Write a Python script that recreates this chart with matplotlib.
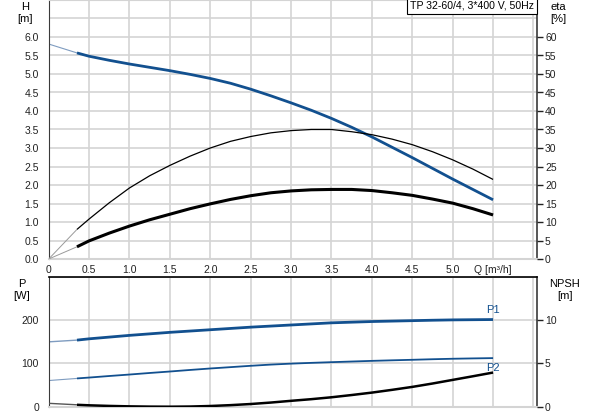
import numpy as np
import matplotlib
matplotlib.use('Agg')
import matplotlib.pyplot as plt

plt.rcParams['font.family'] = ['Liberation Sans', 'DejaVu Sans']
plt.rcParams['font.size'] = 7.5

# flow points [m3/h]
q = [0, 0.35, 0.5, 0.75, 1.0, 1.25, 1.5, 1.75, 2.0, 2.25, 2.5, 2.75,
     3.0, 3.25, 3.5, 3.75, 4.0, 4.25, 4.5, 4.75, 5.0, 5.25, 5.5]
# head [m]
head = [5.81, 5.57, 5.48, 5.37, 5.27, 5.18, 5.09, 4.99, 4.88, 4.75, 4.59, 4.41,
        4.22, 4.02, 3.80, 3.56, 3.30, 3.02, 2.74, 2.45, 2.16, 1.88, 1.60]
# efficiencies [%]
eta_pump = [0, 8.0, 10.8, 15.2, 19.2, 22.5, 25.3, 27.8, 30.0, 31.8, 33.1, 34.1,
            34.7, 35.0, 35.0, 34.4, 33.6, 32.4, 30.9, 29.0, 26.8, 24.3, 21.5]
eta_total = [0, 3.3, 4.9, 7.0, 8.9, 10.6, 12.1, 13.6, 14.9, 16.1, 17.1, 17.9,
             18.4, 18.7, 18.8, 18.8, 18.5, 17.9, 17.2, 16.2, 15.1, 13.6, 11.9]
# power [W]
p1 = [150, 154, 157, 161, 165, 168.5, 172, 175, 178, 181, 184, 186.5,
      189, 191.5, 194, 195.5, 197, 198, 199, 200, 200.8, 201.2, 201.6]
p2 = [60.5, 65.4, 67.4, 71, 74.4, 78, 81.4, 85, 88.4, 91.5, 94.6, 97.4,
      99.6, 101.4, 103, 104.5, 106, 107.3, 108.5, 109.8, 110.9, 111.7, 112.4]
# NPSH [m]
npsh = [0.39, 0.22, 0.16, 0.09, 0.04, 0.01, 0.0, 0.02, 0.08, 0.18, 0.31, 0.48,
        0.68, 0.87, 1.09, 1.35, 1.63, 1.95, 2.29, 2.68, 3.10, 3.52, 3.95]

title = 'TP 32-60/4, 3*400 V, 50Hz'
xticks = np.arange(0, 6.01, 0.5)
xlabels = ['0', '0.5', '1.0', '1.5', '2.0', '2.5', '3.0', '3.5', '4.0', '4.5', '5.0', 'Q [m³/h]', '']

blue = '#12508f'
lightblue = '#7f9cc0'
grid_c = '#d4d4d4'
spine_c = '#3a3a3a'

W, H = 593, 415
fig = plt.figure(figsize=(W / 100, H / 100), dpi=100)


def frac(x0, y0, x1, y1):
    return [x0 / W, 1 - y1 / H, (x1 - x0) / W, (y1 - y0) / H]


def split_plot(ax, x, y, c_thin, c_thick, lw_thin, lw_thick, n=2):
    ax.plot(x[:n], y[:n], color=c_thin, lw=lw_thin, solid_capstyle='butt')
    ax.plot(x[n - 1:], y[n - 1:], color=c_thick, lw=lw_thick,
            solid_capstyle='butt', solid_joinstyle='round')


def style(ax, ymax, ystep, ylabels):
    ax.set_xlim(0, 6.04)
    ax.set_ylim(0, ymax)
    ax.set_xticks(xticks)
    yt = np.arange(0, ymax + 1e-9, ystep)
    ax.set_yticks(yt)
    ax.set_yticklabels(ylabels + [''] * (len(yt) - len(ylabels)))
    ax.grid(True, color=grid_c, lw=1.2)
    ax.set_axisbelow(True)
    ax.tick_params(axis='y', length=0, pad=7, colors='#222222')
    ax.tick_params(axis='x', length=0, pad=4, colors='#222222')
    ax.spines['left'].set_color(spine_c)
    ax.spines['right'].set_color(spine_c)
    ax.spines['right'].set_linewidth(1.2)
    ax.spines['bottom'].set_color(grid_c)
    ax.spines['bottom'].set_linewidth(1.5)


# upper chart: head and efficiency
ax1 = fig.add_axes(frac(48.7, 0, 536.7, 259))
style(ax1, 7.0, 0.5, ['%.1f' % v for v in np.arange(0, 6.01, 0.5)])
ax1.set_xticklabels(xlabels)
ax1.spines['top'].set_color(grid_c)
split_plot(ax1, q, head, lightblue, blue, 0.8, 2.0)

ax1r = ax1.twinx()
ax1r.set_ylim(0, 70)
ax1r.set_yticks(np.arange(0, 61, 5))
ax1r.tick_params(axis='y', length=4, width=1, pad=2, colors='#222222')
for s in ax1r.spines.values():
    s.set_visible(False)
split_plot(ax1r, q, eta_pump, '#9a9a9a', 'black', 0.7, 0.9)
split_plot(ax1r, q, eta_total, '#9a9a9a', 'black', 0.7, 2.2)

ax1.text(0.995, 0.997, title, transform=ax1.transAxes, ha='right', va='top',
         fontsize=7.6, bbox=dict(boxstyle='square,pad=0.3', fc='white', ec='black', lw=0.8))

fig.text(25 / W, 1 - 7 / H, 'H', ha='center', va='center', fontsize=8)
fig.text(25 / W, 1 - 19 / H, '[m]', ha='center', va='center', fontsize=8)
fig.text(558 / W, 1 - 7 / H, 'eta', ha='center', va='center', fontsize=8)
fig.text(558 / W, 1 - 19 / H, '[%]', ha='center', va='center', fontsize=8)

# lower chart: power and NPSH
ax2 = fig.add_axes(frac(48.7, 277, 536.7, 406.7))
style(ax2, 300, 100, ['0', '100', '200'])
ax2.set_xticklabels([])
ax2.spines['top'].set_color('black')
ax2.spines['top'].set_linewidth(1.2)
split_plot(ax2, q, p1, lightblue, blue, 1.0, 2.0)
split_plot(ax2, q, p2, lightblue, blue, 0.8, 1.3)
ax2.text(5.5, 212, 'P1', color=blue, ha='center', va='bottom', fontsize=8)
ax2.text(5.5, 100, 'P2', color=blue, ha='center', va='top', fontsize=8)

ax2r = ax2.twinx()
ax2r.set_ylim(0, 15)
ax2r.set_yticks([0, 5, 10])
ax2r.tick_params(axis='y', length=4, width=1, pad=2, colors='#222222')
for s in ax2r.spines.values():
    s.set_visible(False)
split_plot(ax2r, q, npsh, '#555555', 'black', 1.0, 1.8)

fig.text(22 / W, 1 - 284 / H, 'P', ha='center', va='center', fontsize=8)
fig.text(22 / W, 1 - 296 / H, '[W]', ha='center', va='center', fontsize=8)
fig.text(565 / W, 1 - 284 / H, 'NPSH', ha='center', va='center', fontsize=8)
fig.text(565 / W, 1 - 296 / H, '[m]', ha='center', va='center', fontsize=8)

fig.savefig('out.png', dpi=100)
